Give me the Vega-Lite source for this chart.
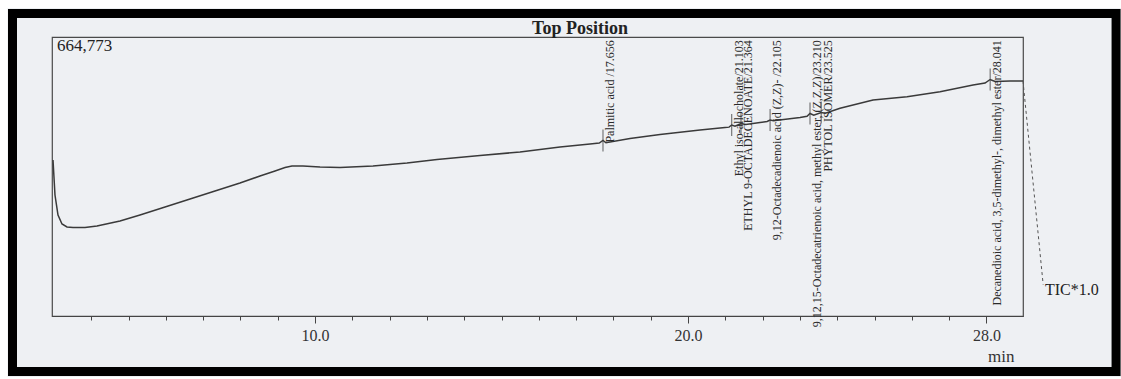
{
  "$schema": "https://vega.github.io/schema/vega-lite/v6.json",
  "width": 971,
  "height": 279,
  "autosize": {"type": "none"},
  "padding": {"left": 52, "top": 37, "right": 98, "bottom": 63},
  "background": "#eef0f3",
  "config": {
    "view": {"stroke": "#4a4a4a", "strokeWidth": 1.2},
    "font": "Liberation Serif",
    "axisX": {
      "tickColor": "#444444", "domainColor": "#444444", "domainWidth": 1.2, "zindex": 1,
      "labelFont": "Liberation Serif", "labelFontSize": 16, "labelColor": "#333333", "labelPadding": 4,
      "labelOverlap": false, "labelFlush": false, "grid": false,
      "titleFont": "Liberation Serif", "titleFontSize": 17, "titleFontWeight": "normal", "titleColor": "#333333",
      "titleAnchor": "end", "titleAlign": "right", "titleBaseline": "middle", "titleX": 962, "titleY": 40
    }
  },
  "datasets": {
    "trace": [
      {"t": 2.976, "I": 371701}, {"t": 3.029, "I": 288307}, {"t": 3.110, "I": 240653}, {"t": 3.217, "I": 219208},
      {"t": 3.351, "I": 212060}, {"t": 3.512, "I": 210869}, {"t": 3.834, "I": 210869}, {"t": 4.155, "I": 214443},
      {"t": 4.772, "I": 226357}, {"t": 5.308, "I": 240653}, {"t": 5.979, "I": 259714}, {"t": 6.649, "I": 278776},
      {"t": 7.319, "I": 297838}, {"t": 7.989, "I": 316899}, {"t": 8.525, "I": 333578}, {"t": 8.928, "I": 345492},
      {"t": 9.196, "I": 353831}, {"t": 9.383, "I": 357405}, {"t": 9.678, "I": 357405}, {"t": 10.134, "I": 355022},
      {"t": 10.670, "I": 353831}, {"t": 11.555, "I": 357405}, {"t": 12.466, "I": 364553}, {"t": 13.271, "I": 372893},
      {"t": 14.424, "I": 382423}, {"t": 15.496, "I": 390763}, {"t": 16.568, "I": 402676}, {"t": 17.373, "I": 409824},
      {"t": 17.62, "I": 412207}, {"t": 17.72, "I": 418164}, {"t": 17.80, "I": 412800}, {"t": 18.445, "I": 422929},
      {"t": 19.249, "I": 432460}, {"t": 20.322, "I": 443182}, {"t": 20.992, "I": 449139}, {"t": 21.10, "I": 450000},
      {"t": 21.17, "I": 455096}, {"t": 21.26, "I": 452000}, {"t": 21.42, "I": 458670}, {"t": 21.55, "I": 456287},
      {"t": 21.93, "I": 461052}, {"t": 22.12, "I": 463500}, {"t": 22.20, "I": 467009}, {"t": 22.29, "I": 465000},
      {"t": 23.003, "I": 472966}, {"t": 23.19, "I": 476000}, {"t": 23.27, "I": 482497}, {"t": 23.37, "I": 478500},
      {"t": 23.57, "I": 484879}, {"t": 23.68, "I": 483000}, {"t": 24.075, "I": 494887}, {"t": 24.96, "I": 514663},
      {"t": 25.871, "I": 522526}, {"t": 26.756, "I": 534440}, {"t": 27.641, "I": 550404}, {"t": 27.962, "I": 555169},
      {"t": 28.10, "I": 563509}, {"t": 28.23, "I": 558743}, {"t": 28.633, "I": 559935}, {"t": 28.98, "I": 559935}
    ],
    "peaks": [
      {"t": 17.72, "I": 418164, "name": "Palmitic acid /17.656"},
      {"t": 21.17, "I": 455096, "name": "Ethyl iso-allocholate/21.103"},
      {"t": 21.42, "I": 458670, "name": "ETHYL 9-OCTADECENOATE/21.364"},
      {"t": 22.20, "I": 467009, "name": "9,12-Octadecadienoic acid (Z,Z)- /22.105"},
      {"t": 23.27, "I": 482497, "name": "9,12,15-Octadecatrienoic acid, methyl ester, (Z,Z,Z)/23.210"},
      {"t": 23.57, "I": 484879, "name": "PHYTOL ISOMER/23.525"},
      {"t": 28.10, "I": 563509, "name": "Decanedioic acid, 3,5-dimethyl-, dimethyl ester/28.041"}
    ],
    "leader": [
      {"t": 28.98, "I": 559935}, {"t": 29.49, "I": 102456}, {"t": 29.52, "I": 75000}
    ]
  },
  "layer": [
    {
      "data": {"name": "trace"},
      "mark": {"type": "line", "color": "#3a3a3a", "strokeWidth": 1.5, "clip": false},
      "encoding": {
        "x": {"field": "t", "type": "quantitative", "scale": {"domain": [2.949, 28.98], "nice": false, "zero": false},
          "axis": {
            "values": [4,5,6,7,8,9,10,11,12,13,14,15,16,17,18,19,20,21,22,23,24,25,26,27,28],
            "labelExpr": "datum.value == 10 || datum.value == 20 || datum.value == 28 ? format(datum.value, '.1f') : ''",
            "tickSize": {"condition": {"test": "datum.value == 10 || datum.value == 20 || datum.value == 28", "value": 7}, "value": 4},
            "title": "min"
          }},
        "y": {"field": "I", "type": "quantitative", "scale": {"domain": [0, 664773], "nice": false, "zero": false}, "axis": null}
      }
    },
    {
      "data": {"values": [{}]},
      "mark": {"type": "rect", "fill": "transparent", "stroke": "#ffffff", "strokeWidth": 8, "clip": false},
      "encoding": {
        "x": {"datum": 1.649, "type": "quantitative"},
        "x2": {"datum": 31.716},
        "y": {"datum": 743402, "type": "quantitative", "axis": null},
        "y2": {"datum": -154876}
      }
    },
    {
      "data": {"values": [{}]},
      "mark": {"type": "rect", "fill": "transparent", "stroke": "#000000", "strokeWidth": 9, "clip": false},
      "encoding": {
        "x": {"datum": 1.89, "type": "quantitative"},
        "x2": {"datum": 31.475},
        "y": {"datum": 720767, "type": "quantitative", "axis": null},
        "y2": {"datum": -132240}
      }
    },
    {
      "data": {"name": "leader"},
      "mark": {"type": "line", "color": "#555555", "strokeWidth": 1, "strokeDash": [3, 3], "clip": false},
      "encoding": {
        "x": {"field": "t", "type": "quantitative"},
        "y": {"field": "I", "type": "quantitative", "axis": null}
      }
    },
    {
      "data": {"name": "peaks"},
      "mark": {"type": "tick", "orient": "vertical", "color": "#444444", "size": 22, "thickness": 1.2, "clip": false},
      "encoding": {
        "x": {"field": "t", "type": "quantitative"},
        "y": {"field": "I", "type": "quantitative", "axis": null}
      }
    },
    {
      "data": {"name": "peaks"},
      "mark": {"type": "text", "angle": 270, "align": "right", "baseline": "top", "dy": 2, "font": "Liberation Serif", "fontSize": 12, "color": "#2a2a2a", "clip": false},
      "encoding": {
        "x": {"field": "t", "type": "quantitative"},
        "y": {"datum": 657000, "type": "quantitative", "axis": null},
        "text": {"field": "name"}
      }
    },
    {
      "data": {"values": [{}]},
      "mark": {"type": "text", "text": "664,773", "align": "left", "baseline": "middle", "font": "Liberation Serif", "fontSize": 17, "color": "#222222", "clip": false},
      "encoding": {
        "x": {"datum": 3.08, "type": "quantitative"},
        "y": {"datum": 643329, "type": "quantitative", "axis": null}
      }
    },
    {
      "data": {"values": [{}]},
      "mark": {"type": "text", "text": "Top Position", "align": "center", "baseline": "middle", "font": "Liberation Serif", "fontSize": 18, "fontWeight": "bold", "color": "#222222", "clip": false},
      "encoding": {
        "x": {"datum": 17.105, "type": "quantitative"},
        "y": {"datum": 683835, "type": "quantitative", "axis": null}
      }
    },
    {
      "data": {"values": [{}]},
      "mark": {"type": "text", "text": "TIC*1.0", "align": "left", "baseline": "middle", "font": "Liberation Serif", "fontSize": 16, "color": "#222222", "clip": false},
      "encoding": {
        "x": {"datum": 29.57, "type": "quantitative"},
        "y": {"datum": 61950, "type": "quantitative", "axis": null}
      }
    }
  ]
}
